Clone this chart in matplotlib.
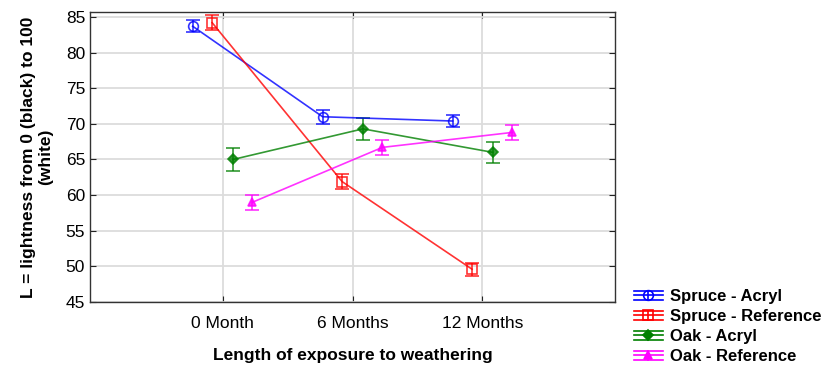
import matplotlib
matplotlib.use("Agg")
import matplotlib.pyplot as plt
from matplotlib.legend_handler import HandlerBase
from matplotlib.lines import Line2D
import numpy as np

plt.rcParams['font.family'] = ['Liberation Sans', 'DejaVu Sans']

categories = ["0 Month", "6 Months", "12 Months"]
series_names = ["Spruce - Acryl", "Spruce - Reference", "Oak - Acryl", "Oak - Reference"]
spruce_acryl = [83.7, 71.0, 70.4]
spruce_acryl_err = [0.85, 1.0, 0.8]
spruce_ref = [84.2, 61.9, 49.6]
spruce_ref_err = [1.05, 1.0, 0.9]
oak_acryl = [65.0, 69.3, 66.0]
oak_acryl_err = [1.55, 1.5, 1.5]
oak_ref = [59.0, 66.7, 68.8]
oak_ref_err = [1.05, 1.0, 1.0]

values = [spruce_acryl, spruce_ref, oak_acryl, oak_ref]
errors = [spruce_acryl_err, spruce_ref_err, oak_acryl_err, oak_ref_err]
colors = ["#0000ff", "#ff0000", "#008000", "#ff00ff"]
markers = ["o", "s", "D", "^"]
fills = ["none", "none", "full", "full"]
msizes = [7, 7, 5, 6]
offsets = [-0.23, -0.08, 0.08, 0.23]

fig = plt.figure(figsize=(8.24, 3.65), dpi=100)
ax = fig.add_axes([90/824, 1-302/365, (615-90)/824, (302-12)/365])

x = np.arange(len(categories))
for vals, errs, c, m, f, ms, off in zip(values, errors, colors, markers, fills, msizes, offsets):
    ax.errorbar(x + off, vals, yerr=errs, color=c, marker=m, fillstyle=f, ms=ms,
                mew=1.2, lw=1.2, elinewidth=1.2, capsize=5, capthick=1.2, alpha=0.8, zorder=3)

ax.set_xlim(-1.02, 3.02)
ax.set_ylim(45, 85.7)
ax.set_xticks(x)
ax.set_xticklabels(categories)
ax.set_yticks(np.arange(45, 86, 5))
ax.grid(True, color="#dcdcdc", lw=1.3, zorder=0)
ax.set_axisbelow(True)
ax.tick_params(direction='in', top=True, right=True, labelsize=12.5, length=4, color="#222222")
ax.tick_params(axis='x', pad=10)
for s in ax.spines.values():
    s.set_color("#333333")
    s.set_linewidth(1.0)

ax.set_xlabel("Length of exposure to weathering", fontsize=12.5, fontweight='bold', labelpad=12)
ax.set_ylabel("L = lightness from 0 (black) to 100\n(white)", fontsize=12.5, fontweight='bold', labelpad=9)


class ErrHandler(HandlerBase):
    def __init__(self, color, marker, fill, ms):
        super().__init__()
        self.color, self.marker, self.fill, self.ms = color, marker, fill, ms

    def create_artists(self, legend, orig_handle, xdescent, ydescent, width, height, fontsize, trans):
        cy = height / 2 - ydescent
        x0, x1 = -xdescent, -xdescent + width
        d = height * 0.42
        arts = []
        for yy in (cy - d, cy, cy + d):
            arts.append(Line2D([x0, x1], [yy, yy], color=self.color, lw=1.2, transform=trans))
        xm = (x0 + x1) / 2
        arts.append(Line2D([xm, xm], [cy - d, cy + d], color=self.color, lw=1.2, transform=trans))
        arts.append(Line2D([xm], [cy], color=self.color, marker=self.marker, fillstyle=self.fill,
                           ms=self.ms, mew=1.2, transform=trans))
        return arts


handles = [Line2D([], [], color=c) for c in colors]
hmap = {h: ErrHandler(c, m, f, ms) for h, c, m, f, ms in zip(handles, colors, markers, fills, msizes)}
fig.legend(handles, series_names, handler_map=hmap, loc='lower left',
           bbox_to_anchor=(622/824, -0.03), frameon=False, prop={'weight': 'bold', 'size': 12},
           handlelength=1.75, handletextpad=0.45, labelspacing=0.3, borderpad=0.2)

fig.savefig("out.png", dpi=100, facecolor='white')
